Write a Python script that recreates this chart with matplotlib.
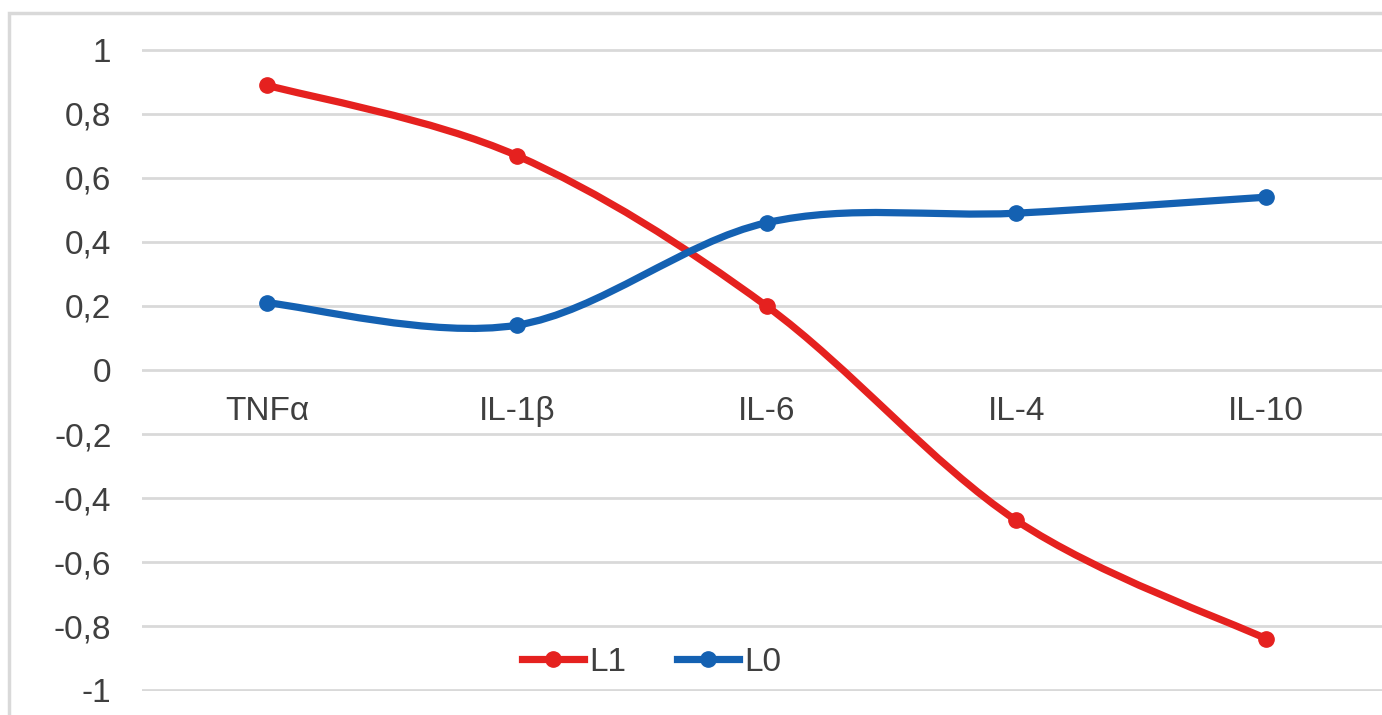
import matplotlib
matplotlib.use("Agg")
import matplotlib.pyplot as plt
import matplotlib.patches as patches
from matplotlib.path import Path
from matplotlib.lines import Line2D

plt.rcParams['font.family'] = ['Liberation Sans', 'DejaVu Sans']

# Cytokine loadings
cytokines = ["TNFα", "IL-1β", "IL-6", "IL-4", "IL-10"]
l1_values = [0.89, 0.67, 0.20, -0.47, -0.84]
l0_values = [0.21, 0.14, 0.46, 0.49, 0.54]
y_ticks = [-1, -0.8, -0.6, -0.4, -0.2, 0, 0.2, 0.4, 0.6, 0.8, 1]
y_tick_labels = ["-1", "-0,8", "-0,6", "-0,4", "-0,2", "0", "0,2", "0,4", "0,6", "0,8", "1"]

C_RED = "#E5211F"
C_BLUE = "#1461B2"
C_GRID = "#D9D9D9"
C_TEXT = "#3F3F3F"


def smooth_path(xs, ys):
    # Catmull-Rom style cubic Bezier segments through every point
    verts = [(xs[0], ys[0])]
    codes = [Path.MOVETO]
    n = len(xs)
    for i in range(n - 1):
        x0, y0 = (xs[i - 1], ys[i - 1]) if i > 0 else (xs[i], ys[i])
        x1, y1 = xs[i], ys[i]
        x2, y2 = xs[i + 1], ys[i + 1]
        x3, y3 = (xs[i + 2], ys[i + 2]) if i + 2 < n else (x2, y2)
        c1 = (x1 + (x2 - x0) / 6, y1 + (y2 - y0) / 6)
        c2 = (x2 - (x3 - x1) / 6, y2 - (y3 - y1) / 6)
        verts += [c1, c2, (x2, y2)]
        codes += [Path.CURVE4] * 3
    return Path(verts, codes)


fig = plt.figure(figsize=(13.82, 7.15), dpi=100, facecolor="white")

# chart area border
fig.patches.append(patches.Rectangle((9 / 1382, -0.1), 1.2, 1 - 13 / 715 + 0.1,
                                     transform=fig.transFigure, fill=False,
                                     edgecolor=C_GRID, linewidth=2.5))

ax = fig.add_axes([142 / 1382, 1 - 691 / 715, 1249 / 1382, 642 / 715])
ax.set_facecolor("none")
ax.set_xlim(-0.5, len(cytokines) - 0.5)
ax.set_ylim(-1.003, 1.003)

for y in y_ticks:
    ax.axhline(y, color=C_GRID, linewidth=2, zorder=1)

xs = list(range(len(cytokines)))
for vals, color in [(l1_values, C_RED), (l0_values, C_BLUE)]:
    ax.add_patch(patches.PathPatch(smooth_path(xs, vals), fill=False, edgecolor=color,
                                   linewidth=5.2, capstyle="round", zorder=3))
    ax.plot(xs, vals, linestyle="none", marker="o", markersize=11, color=color, zorder=4)

for s in ax.spines.values():
    s.set_visible(False)
ax.spines['bottom'].set_position(('data', 0))

ax.set_yticks(y_ticks)
ax.set_yticklabels(y_tick_labels)
ax.set_xticks(xs)
ax.set_xticklabels(cytokines)
ax.tick_params(axis='y', length=0, pad=22, labelsize=24, labelcolor=C_TEXT)
ax.tick_params(axis='x', length=0, pad=19, labelsize=24, labelcolor=C_TEXT)

handles = [Line2D([], [], color=C_RED, linewidth=5.2, marker="o", markersize=11),
           Line2D([], [], color=C_BLUE, linewidth=5.2, marker="o", markersize=11)]
ax.legend(handles, ["L1", "L0"], loc="center", bbox_to_anchor=(0.408, 0.045),
          ncol=2, frameon=False, fontsize=24, labelcolor=C_TEXT,
          handlelength=1.85, handletextpad=0.15, columnspacing=1.55)

fig.savefig("out.png", dpi=100)
